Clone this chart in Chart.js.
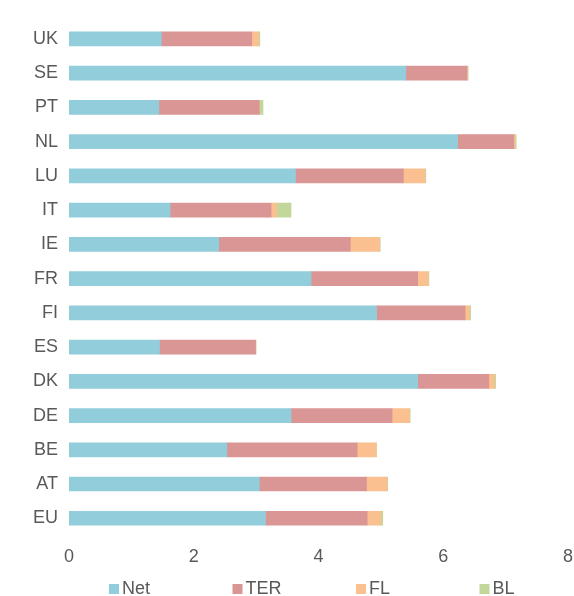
<!DOCTYPE html>
<html>
<head>
<meta charset="utf-8">
<script src="https://cdn.jsdelivr.net/npm/chart.js@4/dist/chart.umd.min.js"></script>
<style>
  html, body { margin: 0; padding: 0; background: #fff; }
  #wrap { width: 574px; height: 596px; position: relative; }
</style>
</head>
<body>
<div id="wrap"><canvas id="bar-chart"></canvas></div>
<script>
// countries, top to bottom
const paises = ["UK", "SE", "PT", "NL", "LU", "IT", "IE", "FR", "FI", "ES", "DK", "DE", "BE", "AT", "EU"];

const net = [1.48, 5.40, 1.44, 6.23, 3.63, 1.62, 2.40, 3.88, 4.93, 1.45, 5.59, 3.56, 2.53, 3.05, 3.15];
const ter = [1.45, 0.98, 1.61, 0.90, 1.73, 1.62, 2.11, 1.71, 1.42, 1.54, 1.14, 1.62, 2.09, 1.72, 1.63];
const fl  = [0.11, 0.01, 0.00, 0.02, 0.35, 0.09, 0.47, 0.17, 0.07, 0.00, 0.09, 0.28, 0.31, 0.33, 0.22];
const bl  = [0.02, 0.01, 0.06, 0.02, 0.01, 0.23, 0.01, 0.01, 0.02, 0.01, 0.02, 0.01, 0.00, 0.01, 0.03];

const xTicks = [0, 2, 4, 6, 8];

const cinza = "#595959";
const fonte = { family: "'Liberation Sans', Arial, sans-serif", size: 18 };

// legend spread evenly under the plot, like the original
const legendaPlugin = {
    id: "legendaFixa",
    afterDraw(chart) {
        const ctx = chart.ctx;
        ctx.save();
        ctx.font = "18px 'Liberation Sans', Arial, sans-serif";
        ctx.textBaseline = "middle";
        ctx.textAlign = "left";
        chart.data.datasets.forEach(function(ds, i) {
            const x = 109 + i * 123.5;
            const y = 589;
            ctx.fillStyle = ds.backgroundColor;
            ctx.fillRect(x, y - 5, 10, 10);
            ctx.fillStyle = cinza;
            ctx.fillText(ds.label, x + 13, y);
        });
        ctx.restore();
    }
};

function graficos() {
    new Chart(document.getElementById("bar-chart"), {
        type: "bar",
        data: {
            labels: paises,
            datasets: [
                { label: "Net", data: net, backgroundColor: "#92CDDC" },
                { label: "TER", data: ter, backgroundColor: "#DA9694" },
                { label: "FL",  data: fl,  backgroundColor: "#FAC090" },
                { label: "BL",  data: bl,  backgroundColor: "#C4D79B" }
            ]
        },
        options: {
            indexAxis: "y",
            responsive: true,
            maintainAspectRatio: false,
            animation: false,
            barThickness: 14,
            layout: { padding: { top: 16, right: 6, bottom: 17, left: 0 } },
            plugins: {
                legend: { display: false },
                tooltip: { enabled: false },
                title: { display: false }
            },
            scales: {
                x: {
                    stacked: true,
                    min: 0,
                    max: 8,
                    afterBuildTicks: function(scale) {
                        scale.ticks = xTicks.map(function(v) { return { value: v }; });
                    },
                    afterFit: function(scale) {
                        scale.paddingLeft = 0;
                        scale.paddingRight = 6;
                    },
                    grid: { display: false, drawTicks: false },
                    border: { display: false },
                    ticks: { color: cinza, font: fonte, padding: 11, maxRotation: 0 }
                },
                y: {
                    stacked: true,
                    afterFit: function(scale) { scale.width = 69; },
                    grid: { display: false, drawTicks: false },
                    border: { display: false },
                    ticks: { color: cinza, font: fonte, padding: 11 }
                }
            }
        },
        plugins: [legendaPlugin]
    });
}

graficos();
</script>
</body>
</html>
